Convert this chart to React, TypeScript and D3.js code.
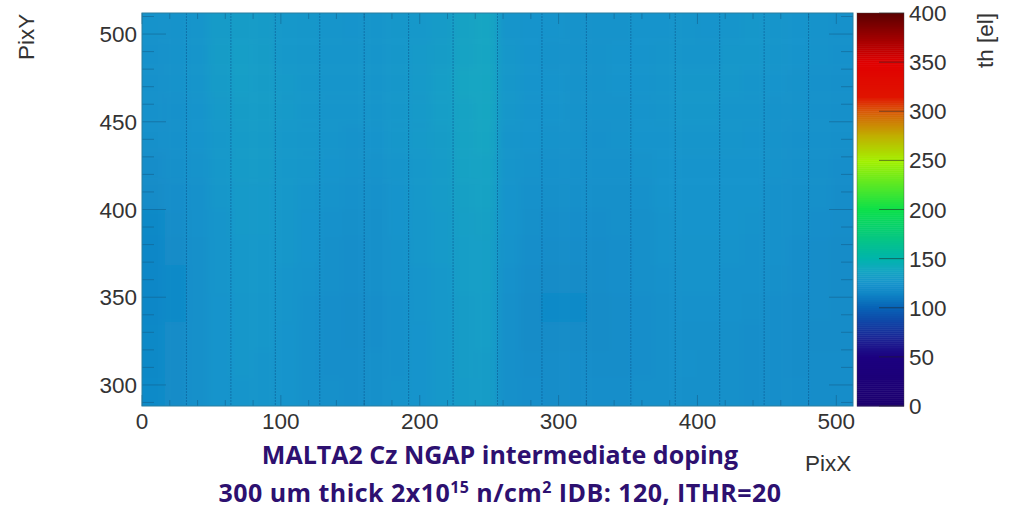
import React from 'react'
import * as d3 from 'd3'

const width = 1011
const height = 508

// mean threshold, 32 columns (16 pixels wide) by 14 rows (16 pixels tall), top row first
const thresholdRows = [
  [124, 124, 126, 130, 131, 130, 128, 127, 126, 125, 126, 127, 128, 130, 135, 137, 126, 125, 125, 124, 124, 124, 125, 125, 126, 125, 126, 127, 126, 125, 124, 123],
  [123, 124, 126, 131, 132, 131, 128, 127, 126, 126, 126, 127, 129, 131, 136, 137, 127, 125, 124, 124, 124, 125, 125, 126, 126, 126, 127, 127, 126, 125, 124, 123],
  [123, 124, 126, 130, 132, 131, 129, 127, 126, 126, 126, 127, 129, 132, 137, 138, 127, 125, 125, 124, 124, 125, 125, 126, 127, 127, 127, 126, 125, 124, 123, 122],
  [123, 123, 125, 129, 131, 131, 129, 127, 126, 126, 126, 127, 129, 132, 136, 138, 127, 125, 125, 124, 124, 124, 125, 126, 127, 127, 126, 126, 124, 124, 123, 122],
  [122, 123, 125, 128, 130, 130, 128, 127, 126, 124, 125, 127, 129, 131, 136, 137, 126, 125, 124, 124, 123, 124, 125, 125, 126, 126, 126, 125, 124, 123, 123, 122],
  [120, 122, 124, 128, 130, 130, 128, 127, 125, 124, 124, 126, 128, 130, 135, 136, 126, 124, 123, 123, 123, 123, 124, 125, 125, 125, 125, 125, 124, 123, 122, 121],
  [119, 121, 123, 127, 129, 129, 128, 126, 124, 123, 123, 125, 128, 130, 134, 135, 125, 123, 122, 122, 122, 122, 123, 125, 125, 125, 125, 125, 123, 122, 122, 120],
  [117, 120, 123, 126, 129, 129, 127, 125, 123, 122, 122, 125, 127, 129, 133, 134, 125, 122, 121, 121, 121, 122, 122, 124, 125, 125, 125, 124, 123, 122, 121, 120],
  [116, 119, 122, 126, 128, 128, 127, 125, 122, 121, 122, 124, 127, 129, 132, 133, 124, 121, 120, 120, 120, 121, 122, 124, 124, 124, 124, 123, 123, 121, 120, 119],
  [116, 118, 122, 126, 128, 128, 126, 124, 122, 121, 122, 124, 126, 128, 132, 133, 123, 120, 119, 119, 120, 121, 122, 123, 124, 124, 123, 123, 122, 121, 120, 119],
  [116, 118, 122, 125, 127, 127, 126, 123, 121, 120, 121, 123, 126, 128, 131, 132, 122, 119, 118, 118, 119, 120, 121, 122, 123, 123, 123, 122, 121, 120, 120, 119],
  [117, 119, 122, 125, 127, 127, 125, 123, 121, 120, 121, 123, 125, 128, 131, 132, 122, 119, 119, 119, 119, 120, 121, 122, 122, 122, 122, 121, 121, 120, 119, 119],
  [117, 119, 122, 125, 127, 126, 125, 123, 121, 121, 122, 123, 125, 128, 131, 131, 122, 120, 120, 120, 120, 120, 121, 122, 123, 122, 122, 121, 121, 120, 120, 120],
  [118, 119, 122, 125, 126, 126, 125, 123, 122, 121, 122, 124, 125, 128, 130, 131, 122, 121, 120, 120, 121, 121, 122, 122, 122, 122, 122, 121, 121, 121, 120, 120]
]

// columns where the threshold drops out, every double-column boundary
const deadColumns = [32, 64, 96, 128, 160, 192, 224, 256, 288, 320, 352, 384, 416, 448, 480]

const xTicks = [0, 100, 200, 300, 400, 500]
const yTicks = [300, 350, 400, 450, 500]
const zTicks = [0, 50, 100, 150, 200, 250, 300, 350, 400]

// colour bar palette, value -> colour
const paletteValues = [0, 50, 65, 100, 115, 125, 138, 150, 200, 250, 275, 300, 315, 350, 400]
const paletteColors = ['#1c006e', '#1c0080', '#1c1c90', '#0862b6', '#0f86c6', '#1794cc', '#14a6c2', '#00b4ac', '#0ce04a', '#a4f000', '#c0b000', '#d85a08', '#e01400', '#e00000', '#5c0000']

const plot = { left: 142, right: 853, top: 13, bottom: 406 }
const bar = { left: 857, right: 904 }

export default function App() {
  // pixel axes
  const x = d3.scaleLinear().domain([0, 512]).range([plot.left, plot.right])
  const y = d3.scaleLinear().domain([288, 512]).range([plot.bottom, plot.top])
  const z = d3.scaleLinear().domain([0, 400]).range([plot.bottom, plot.top])
  const color = d3
    .scaleLinear<string>()
    .domain(paletteValues)
    .range(paletteColors)
    .clamp(true)

  // edge cells run past the frame so the blur does not fade at the border
  const bleed = 30
  const cells = thresholdRows.flatMap((row, r) =>
    row.map((v, c) => {
      const x0 = x(c * 16) - (c === 0 ? bleed : 0)
      const x1 = x((c + 1) * 16) + (c === row.length - 1 ? bleed : 0.5)
      const y0 = y(512 - r * 16) - (r === 0 ? bleed : 0)
      const y1 = y(512 - (r + 1) * 16) + (r === thresholdRows.length - 1 ? bleed : 0.5)
      return <rect key={`${r}-${c}`} x={x0} y={y0} width={x1 - x0} height={y1 - y0} fill={color(v)} />
    })
  )

  const xMinor = d3.range(0, 512, 20)
  const yMinor = d3.range(290, 512, 10)
  const barSteps = d3.range(0, 400, 2)
  const textCol = '#333'
  const titleCol = '#2d1070'
  const tickSize = 22.5

  return (
    <svg
      width={width}
      height={height}
      style={{ position: 'absolute', left: 0, top: 0, fontFamily: 'Liberation Sans' }}
    >
      <rect width={width} height={height} fill="#fff" />

      <defs>
        <filter
          id="soften"
          filterUnits="userSpaceOnUse"
          x={plot.left - bleed}
          y={plot.top - bleed}
          width={plot.right - plot.left + 2 * bleed}
          height={plot.bottom - plot.top + 2 * bleed}
        >
          <feGaussianBlur stdDeviation="4" />
        </filter>
        <clipPath id="plot-clip">
          <rect x={plot.left} y={plot.top} width={plot.right - plot.left} height={plot.bottom - plot.top} />
        </clipPath>
      </defs>

      <g clipPath="url(#plot-clip)">
        <g filter="url(#soften)">{cells}</g>
      </g>

      {deadColumns.map(d => (
        <line
          key={d}
          x1={x(d)}
          x2={x(d)}
          y1={plot.top}
          y2={plot.bottom}
          stroke="#0b5f98"
          strokeOpacity={0.65}
          strokeWidth={1}
          strokeDasharray="2 1"
        />
      ))}

      {/* frame ticks on x */}
      {xMinor.map(d => {
        const len = d % 100 === 0 ? 11 : 6
        return (
          <g key={d} stroke="#145f8c" strokeOpacity={0.7} strokeWidth={0.8}>
            <line x1={x(d)} x2={x(d)} y1={plot.bottom} y2={plot.bottom - len} />
            <line x1={x(d)} x2={x(d)} y1={plot.top} y2={plot.top + len} />
          </g>
        )
      })}
      {/* frame ticks on y */}
      {yMinor.map(d => {
        const len = d % 50 === 0 ? 24 : 12
        return (
          <g key={d} stroke="#145f8c" strokeOpacity={0.7} strokeWidth={0.8}>
            <line x1={plot.left} x2={plot.left + len} y1={y(d)} y2={y(d)} />
            <line x1={plot.right} x2={plot.right - len} y1={y(d)} y2={y(d)} />
          </g>
        )
      })}
      <rect
        x={plot.left}
        y={plot.top}
        width={plot.right - plot.left}
        height={plot.bottom - plot.top}
        fill="none"
        stroke="#2b7f9f"
        strokeWidth={1}
      />

      {/* colour bar */}
      {barSteps.map(d => (
        <rect
          key={d}
          x={bar.left}
          y={z(d + 2)}
          width={bar.right - bar.left}
          height={z(0) - z(2) + 0.5}
          fill={color(d + 1)}
        />
      ))}
      {zTicks.map(d => (
        <g key={d}>
          <line x1={bar.right - 25} x2={bar.right} y1={z(d)} y2={z(d)} stroke="#222" strokeOpacity={0.55} />
          <text x={909} y={z(d) + 8} fontSize={tickSize} fill={textCol}>
            {d}
          </text>
        </g>
      ))}
      <rect x={bar.left} y={plot.top} width={bar.right - bar.left} height={plot.bottom - plot.top} fill="none" stroke="#444" strokeOpacity={0.4} />

      {xTicks.map(d => (
        <text key={d} x={x(d)} y={429} fontSize={tickSize} textAnchor="middle" fill={textCol}>
          {d}
        </text>
      ))}
      {yTicks.map(d => (
        <text key={d} x={137} y={y(d) + 8} fontSize={tickSize} textAnchor="end" fill={textCol}>
          {d}
        </text>
      ))}

      <text x={805} y={471} fontSize={tickSize} fill={textCol}>
        PixX
      </text>
      <text transform="translate(34,60) rotate(-90)" fontSize={tickSize} fill={textCol}>
        PixY
      </text>
      <text transform="translate(993,68) rotate(-90)" fontSize={tickSize} fill={textCol}>
        th [el]
      </text>

      <g fontFamily="Open Sans" fontWeight={700} fill={titleCol} textAnchor="middle">
        <text x={500} y={464} fontSize={25}>
          MALTA2 Cz NGAP intermediate doping
        </text>
        <text x={500} y={502} fontSize={25} letterSpacing={0.45}>
          300 um thick 2x10
          <tspan fontSize={16} dy={-9}>15</tspan>
          <tspan dy={9}> n/cm</tspan>
          <tspan fontSize={16} dy={-9}>2</tspan>
          <tspan dy={9}> IDB: 120, ITHR=20</tspan>
        </text>
      </g>
    </svg>
  )
}
